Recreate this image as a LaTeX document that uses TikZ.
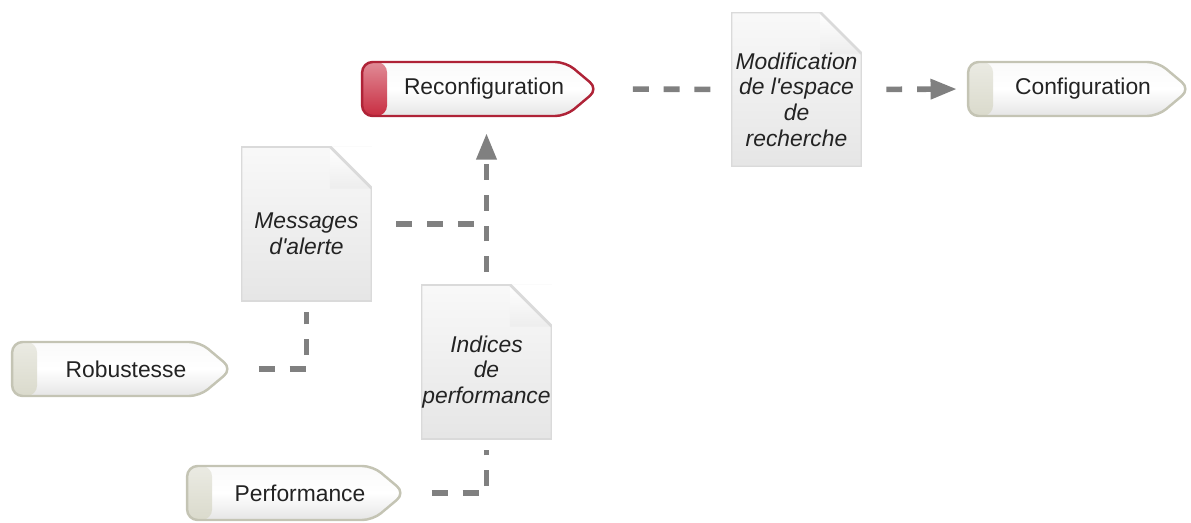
\documentclass[tikz,border=0pt]{standalone}
\usepackage{fontspec}
\setmainfont{Liberation Sans}
\usetikzlibrary{shapes.symbols, arrows.meta}
\definecolor{tagedge}{RGB}{196,196,180}
\definecolor{tagcap}{RGB}{218,218,204}
\definecolor{recoedge}{RGB}{175,35,55}
\definecolor{recocap}{RGB}{200,45,65}
\definecolor{docedge}{RGB}{218,218,218}
\definecolor{linkgray}{RGB}{128,128,128}
\definecolor{textgray}{RGB}{35,35,35}

\begin{document}
\begin{tikzpicture}[
    x=0.02cm, y=-0.02cm,
    every node/.style={font=\fontsize{13}{14.6}\selectfont, text=textgray},
    tag/.style={signal, signal to=east, signal pointer angle=80, draw=tagedge, line width=1.4pt,
        rounded corners=6pt, minimum width=4.4cm, minimum height=1.08cm, inner xsep=0pt,
        top color=gray!4, bottom color=gray!20, middle color=white,
        execute at begin node={\hspace*{0.8cm}},
        path picture={\shade[top color=#1!55, bottom color=#1]
            (path picture bounding box.south west) rectangle ([xshift=0.5cm]path picture bounding box.north west);}},
    tag/.default=tagcap,
    doc/.style={rectangle, minimum width=2.62cm, minimum height=3.1cm, inner sep=0pt,
        top color=gray!5, bottom color=gray!20,
        label={[align=center, yshift=-0.2cm, font=\itshape\fontsize{13}{14.6}\selectfont]center:#1},
        path picture={
            \fill[white] ([xshift=-0.84cm]path picture bounding box.north east) -- (path picture bounding box.north east)
                -- ([yshift=-0.84cm]path picture bounding box.north east) -- cycle;
            \shade[top color=white, bottom color=gray!14] ([xshift=-0.84cm]path picture bounding box.north east)
                -- ([xshift=-0.84cm, yshift=-0.84cm]path picture bounding box.north east)
                -- ([yshift=-0.84cm]path picture bounding box.north east) -- cycle;
            \draw[docedge, line width=1.6pt] (path picture bounding box.south west) -- (path picture bounding box.north west)
                -- ([xshift=-0.84cm]path picture bounding box.north east) -- ([yshift=-0.84cm]path picture bounding box.north east)
                -- (path picture bounding box.south east) -- cycle;}},
    link/.style={draw=linkgray, line width=3.2pt, dash pattern=on 9pt off 8.5pt},
    tip/.style={-{Triangle[length=15pt, width=11pt]}}
]
\useasboundingbox (0,0) rectangle (1191,523);
% process tags
\node[tag=recocap, draw=recoedge, minimum width=4.72cm] (reco) at (464,89) {Reconfiguration};
\node[tag, minimum width=4.44cm] (config) at (1063,89) {Configuration};
\node[tag] (robust) at (106,369) {Robustesse};
\node[tag, minimum width=4.36cm] (perf) at (280,493) {Performance};
% documents
\node[doc={Modification\\de l\textquotesingle espace\\de\\recherche}] (modif) at (796.5,89.5) {};
\node[doc={Messages\\d\textquotesingle alerte}] (msg) at (306.5,224) {};
\node[doc={Indices\\de\\performance}] (indices) at (486.5,362) {};
% flows
\draw[link, shorten <=0.66cm, shorten >=0.3cm] (reco.east) -- (modif.west);
\draw[link, tip, shorten <=0.48cm, shorten >=0.2cm] (modif.east) -- (config.west);
\draw[link, tip, shorten <=0.24cm, shorten >=0.32cm] (indices.north) -- (indices.north |- reco.south);
\draw[link, shorten <=0.48cm] (msg.east) -- (indices.north |- msg.east);
\draw[link, shorten <=0.5cm, shorten >=0.2cm] (robust.east) -| (msg.south);
\draw[link, shorten <=0.5cm, shorten >=0.2cm] (perf.east) -| (indices.south);
\end{tikzpicture}
\end{document}
